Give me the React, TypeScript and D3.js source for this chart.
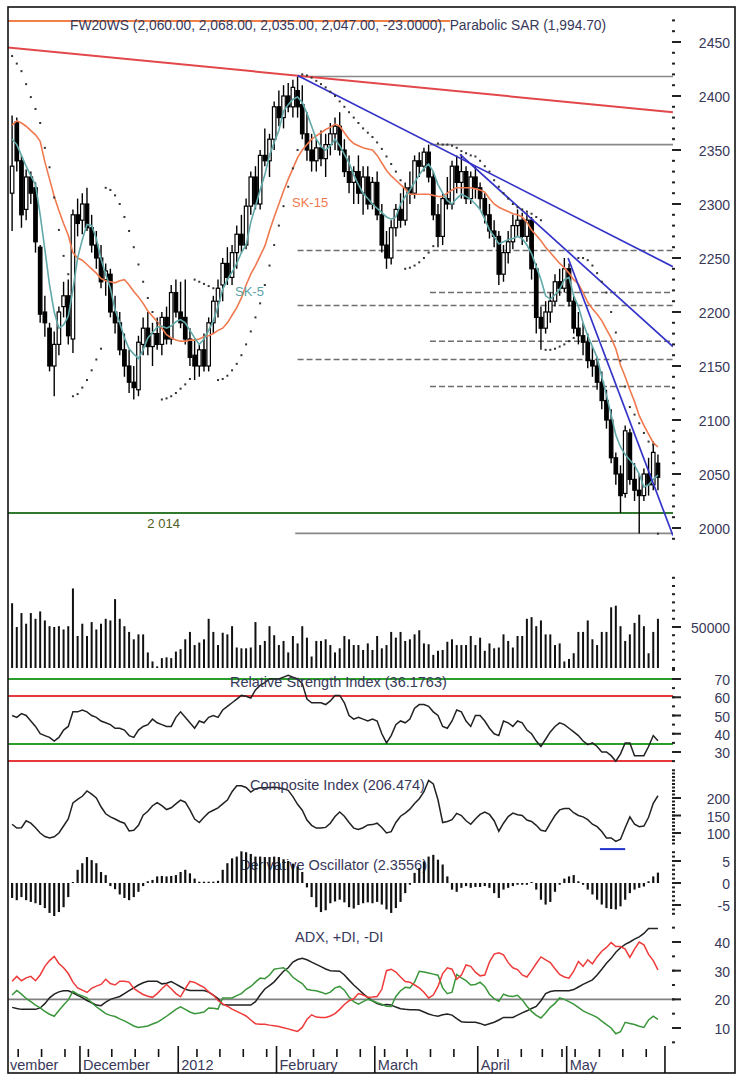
import React from "react";
import * as d3 from "d3";

const FONT = "'Liberation Sans', Arial, sans-serif";
const TXT = "#38385a";

// ---------- daily data (Nov 2011 – May 2012), index 0..138 ----------
const opens = [2310,2376,2340,2295,2325,2315,2260,2200,2185,2150, 2170,2205,2215,2175,2290,2285,2300,2278,2262,2250, 2230,2235,2200,2190,2165,2150,2135,2128,2170,2185, 2168,2180,2170,2195,2175,2218,2200,2195,2175,2160, 2150,2165,2150,2190,2210,2225,2245,2232,2255,2272, 2262,2298,2325,2300,2345,2340,2360,2390,2380,2400, 2390,2405,2392,2365,2350,2340,2352,2342,2355,2365, 2372,2350,2330,2320,2330,2310,2325,2300,2320,2290, 2262,2250,2278,2295,2285,2315,2310,2340,2335,2348, 2325,2290,2270,2305,2300,2335,2320,2330,2305,2325, 2315,2305,2290,2275,2270,2235,2255,2265,2280,2285, 2270,2285,2240,2195,2185,2200,2210,2228,2222,2240, 2210,2185,2178,2172,2155,2150,2135,2118,2100,2065, 2050,2032,2088,2045,2035,2030,2050,2040,2060];
const highs = [2382,2380,2345,2332,2330,2320,2262,2215,2190,2182, 2205,2228,2230,2295,2305,2310,2315,2290,2275,2262, 2245,2240,2215,2200,2180,2165,2150,2178,2195,2200, 2190,2195,2200,2205,2225,2230,2228,2230,2185,2175, 2170,2180,2195,2215,2230,2250,2260,2262,2280,2290, 2305,2330,2335,2350,2370,2365,2395,2405,2410,2412, 2415,2418,2410,2385,2365,2360,2368,2365,2375,2380, 2385,2360,2345,2335,2345,2335,2335,2325,2330,2300, 2275,2285,2300,2310,2320,2330,2345,2348,2352,2355, 2330,2300,2310,2325,2340,2345,2346,2335,2330,2335, 2320,2310,2300,2285,2275,2262,2275,2290,2295,2292, 2292,2288,2245,2205,2210,2218,2235,2240,2250,2245, 2215,2200,2190,2180,2168,2158,2145,2128,2110,2070, 2058,2095,2092,2060,2050,2055,2065,2080,2068];
const lows = [2275,2330,2278,2285,2300,2255,2190,2177,2145,2122, 2160,2195,2170,2162,2270,2272,2275,2255,2240,2222, 2215,2195,2180,2160,2140,2125,2119,2122,2160,2160, 2150,2165,2160,2170,2170,2195,2185,2170,2150,2137, 2140,2145,2145,2180,2195,2210,2225,2225,2240,2255, 2258,2290,2295,2295,2335,2325,2350,2372,2370,2385, 2380,2380,2360,2340,2330,2330,2335,2325,2345,2350, 2345,2325,2310,2300,2300,2290,2295,2295,2285,2255, 2240,2244,2270,2278,2280,2300,2305,2325,2330,2320, 2285,2260,2262,2295,2295,2310,2305,2300,2300,2305, 2295,2282,2268,2260,2225,2228,2245,2258,2270,2262, 2265,2230,2180,2165,2180,2190,2205,2215,2218,2205, 2180,2170,2160,2148,2140,2128,2110,2092,2060,2040, 2014,2028,2040,2025,1995,2025,2030,2035,2035];
const closes = [2335,2340,2290,2325,2310,2265,2198,2190,2150,2170, 2200,2215,2178,2290,2282,2300,2278,2262,2250,2228, 2238,2200,2190,2165,2150,2135,2130,2172,2185,2168, 2180,2170,2195,2175,2218,2200,2190,2175,2158,2150, 2165,2150,2190,2210,2222,2245,2232,2255,2272,2262, 2298,2325,2300,2345,2340,2360,2390,2380,2400,2390, 2408,2390,2365,2350,2340,2352,2342,2355,2365,2372, 2350,2330,2320,2330,2310,2325,2300,2320,2290,2262, 2250,2278,2295,2285,2315,2310,2340,2335,2348,2325, 2290,2270,2305,2300,2335,2320,2330,2305,2325,2315, 2305,2290,2275,2270,2235,2255,2265,2280,2285,2270, 2285,2240,2195,2185,2200,2210,2228,2222,2240,2210, 2185,2178,2172,2155,2150,2135,2118,2100,2065,2050, 2030,2090,2045,2035,2030,2050,2040,2070,2047];
const sk5 = [2360,2355,2345,2335,2326,2318,2290,2258,2225,2200, 2185,2188,2196,2221,2250,2267,2281,2280,2268,2249, 2235,2222,2202,2190,2176,2166,2161,2157,2165,2176, 2181,2186,2187,2185,2187,2191,2193,2190,2183,2176, 2170,2175,2183,2192,2205,2221,2230,2237,2245,2255, 2262,2283,2298,2313,2327,2345,2357,2368,2386,2392, 2397,2399,2394,2384,2372,2360,2353,2350,2354,2360, 2354,2346,2338,2327,2318,2310,2305,2300,2296,2292, 2288,2286,2288,2300,2307,2313,2320,2327,2333,2337, 2330,2318,2310,2303,2300,2305,2309,2307,2304,2300, 2295,2286,2276,2270,2263,2265,2267,2268,2270,2268, 2262,2254,2242,2230,2215,2212,2216,2221,2230,2232, 2215,2205,2190,2178,2168,2158,2140,2123,2105,2086, 2075,2068,2063,2058,2050,2038,2040,2045,2049];
const sk15 = [2373,2377,2375,2372,2368,2364,2358,2339,2323,2307, 2294,2282,2271,2255,2250,2248,2244,2240,2236,2231, 2229,2228,2227,2229,2230,2225,2219,2214,2208,2201, 2196,2191,2185,2179,2176,2174,2173,2173,2174,2174, 2175,2177,2178,2180,2183,2185,2190,2197,2204,2213, 2225,2235,2243,2252,2261,2275,2288,2300,2312,2323, 2333,2343,2350,2355,2360,2363,2366,2369,2371,2374, 2372,2366,2360,2356,2354,2352,2351,2350,2345,2338, 2331,2326,2322,2318,2314,2309,2309,2309,2309,2309, 2308,2307,2307,2310,2313,2315,2315,2315,2315,2314, 2313,2311,2305,2300,2297,2295,2293,2291,2290,2288, 2283,2276,2271,2266,2260,2255,2250,2245,2241,2236, 2230,2226,2218,2209,2203,2198,2192,2184,2176,2166, 2151,2140,2128,2117,2104,2095,2087,2079,2075];
const sar = [2437,2430,2423,2411,2399,2388,2375,2352,2334,2306,2276,2252,2235, 2122,2124,2130,2137,2146,2156,2166, 2315,2313,2308,2300,2288,2275,2260,2244,2228,2213,2200,2190, 2119,2120,2122,2125,2129,2133,2138, 2230,2228,2226,2224,2222, 2137,2138,2141,2146,2152,2160,2170,2182,2195,2208,2225,2243,2262,2280,2298,2316,2333,2350, 2420,2419,2417,2414,2411,2408,2404,2400,2395,2390,2385,2380,2375,2370,2366,2362,2357,2351,2344,2337,2330,2322, 2240,2241,2243,2246,2250,2255,2261, 2356,2355,2355,2354,2352,2349,2347,2345,2344,2340,2335,2330,2322,2316,2310,2305,2300,2297,2295,2293,2291, 2288,2285, 2165,2165,2166,2168,2170,2173,2176, 2250,2250,2248,2243,2236,2228,2218,2200,2181,2155,2131,2112,2105,2097,2088,2080,2077, 1994.7];
const volume = [79000,50000,67000,54000,67000,60000,69000,58000,51000,50000,51000,47000,51000,97000,39000, 54000,39000,56000,47000,54000,60000,58000,84000,60000,51000,44000,35000,41000,41000,19000, 8000,2000,12000,13000,12000,20000,23000,35000,44000,28000,31000,35000,60000,44000,28000, 43000,41000,51000,25000,24000,24000,25000,56000,28000,33000,51000,40000,28000,33000,19000, 39000,30000,51000,37000,14000,33000,33000,35000,28000,19000,24000,39000,35000,28000,28000, 22000,30000,22000,39000,24000,28000,44000,37000,44000,33000,35000,41000,46000,30000,29000, 16000,21000,22000,32000,35000,28000,28000,28000,39000,28000,37000,21000,30000,24000,25000, 41000,33000,25000,39000,39000,60000,62000,51000,58000,41000,41000,28000,30000,8000,11000, 18000,44000,44000,58000,35000,28000,44000,44000,74000,76000,51000,33000,41000,55000,65000, 51000,18000,44000,60000];
const rsi = [50,49,51,50,47,44,40,39,38,36, 38,42,44,52,52,53,52,50,49,47, 46,45,43,43,42,39,38,42,44,45, 48,46,45,44,44,49,52,49,46,43, 47,46,49,50,49,53,55,57,59,61, 60.5,59.5,64,66.5,68,70,70,70,71,72, 71,70,67.5,59,57,57,57,56,58,61, 61,57,50,48,49,48,47,48,47,40, 35,39,45,47,46,48,54,56,56,55, 52,50,44,43,47,53,52,47,44,50, 50,47,43,40,39,47,46,44,47,46, 42,40,36,33,37,41,44,46,45,43, 41,39,36,34,35,33,30,30,28,25, 29,35,35,28,28,28,33,39,36.18];
const compositeIdx = [125,114,115,135,128,115,100,90,86,89, 100,120,140,186,196,205,220,211,200,175, 155,146,140,133,128,106,108,122,151,162, 178,187,178,167,172,183,194,188,166,140, 130,145,158,165,172,183,194,218,235,235, 230,217,226,229,229,230,231,229,226,222, 204,182,165,137,122,114,114,116,128,147, 160,148,130,114,110,115,123,124,128,116, 100,104,130,148,157,168,184,198,218,250, 240,195,130,133,138,156,150,135,125,140, 153,160,153,135,105,128,147,157,152,150, 137,133,122,108,105,128,150,166,170,170, 158,150,146,138,125,118,104,86,86,76, 82,115,146,125,118,120,145,185,206.47];
const derivOsc = [-3.4,-3.9,-3.2,-3.9,-4.3,-4.6,-5.0,-5.7,-6.8,-7.5,-6.6,-5.5,-3.2, 0.2, 3.0,4.5,5.9,5.2,4.5,2.5,1.8, -0.7,-1.4,-2.6,-3.4,-3.9,-3.2,-2.0,-0.7, 0.4,0.7,1.5,1.6,1.5,1.6,1.8,2.5,3.0,2.2,1.0, 0.3,0.3,0.3,0.3,0.5, 3.0,4.5,5.6,6.0,7.2,7.0,6.6,6.0,6.0,5.9,5.9,6.0,5.9,5.4,5.0,4.4,3.8,2.5, -1.0,-3.2,-5.5,-6.6,-6.2,-4.6,-4.2,-3.8,-4.4,-5.5,-5.8,-5.0,-4.6,-4.4, -4.6,-4.3,-4.9,-6.0,-6.8,-5.7,-4.3,-2.3,-0.4, 2.3,3.4,4.9,6.0,6.4,5.3,4.2,1.5, -1.5,-2.0,-1.1,-0.7,-1.1,-0.9,-0.9,-0.7,-1.1,-2.3,-3.4,-1.5,-1.1,-0.7,-0.4,-0.4,-0.4,-0.2,-1.5,-3.8,-4.9,-4.3,-2.0,-0.4, 1.0,1.5,1.8,0.4, -0.4,-1.5,-2.6,-3.8,-4.9,-5.7,-5.9,-6.0,-5.3,-3.8,-2.3,-1.5,-1.1,-0.8, 0.4,1.5,2.36];
const adx = [17.2,16.8,16.5,16.5,16.5,16.5,17,18.5,20.5,21.8, 22.6,23,23,22.3,21.4,20.6,19.6,18.8,18,17.8, 19,20,20.5,21,22,23,24,25,25.8,26.3, 26.3,26.3,25.4,25.6,26.2,25.3,24.4,23.5,23.1,23.1, 23.1,23.1,22.5,21.5,20.3,18.2,18,18,18,18, 18,18,19.2,21.5,23.6,24.8,26.1,28,29.8,31, 33,33.9,34.3,33.8,33,32.2,31.4,30.6,30,29.9, 29.8,28.5,26.7,25,23.5,22,20.6,19.5,18.5,18, 18.2,18,17.3,16.7,16.5,16.4,16.4,16.3,15.6,14.9, 14.4,14.1,14.6,14.9,14.5,13.3,12.2,12,12,12, 11.6,11,11.5,12,12.8,13.7,13.7,13.7,14.5,15.3, 16,16.8,17.5,19.5,22,22.7,23,23,23,23, 23.4,24.3,25.2,26,26.8,28.5,30.5,32.6,34.3,36.4, 38,39.2,40,41,41.8,43,44.7,44.7,44.7];
const minusDI = [26.3,28,26.5,27.5,28,26.5,28.5,31.5,33.5,35, 32.5,31,29,26,24,23.2,22.4,23.8,24.6,25.2, 27,25.5,25,26.3,26.3,26,23.8,22.7,21.7,21.1, 20.7,22,23.7,25.2,23.7,22,20.9,23.7,26.3,25.9, 25,24.2,22.6,21.5,19.6,18.4,17.6,16.6,15.8,15, 14.2,12.8,11.5,11.3,11.3,11,10.8,10.5,10.1,9.7, 9.2,8.8,10.2,13,14.6,13.8,13.7,13.7,14.2,15, 16.5,18.2,19.5,20.2,22,21.5,20.7,20.8,21,23.5, 30,30.5,29.5,27.8,26.2,26,25,24,22.5,20.5, 21.5,24.5,29,31,30.5,27,28.5,32,31.5,29.5, 28.2,28.5,33,35.8,36.2,35.5,32.8,31,30.4,28.5, 27.8,30,32.5,34.8,33.8,32.8,30.7,28.7,27.8,27.4, 29.8,33.2,31.5,33.8,32.4,34.8,36.8,38.1,39.8,38.4, 38.4,37.5,34.6,37.5,40,39,35.7,33.5,30.3];
const plusDI = [21.5,23.1,21.8,20.3,19.2,18,17,15.8,14.8,14.1, 16.1,18,19.8,22.8,21.8,21.2,20.5,18.8,17.4,16.2, 15,14.4,14,13.2,12.5,11.6,10.7,10.2,10.4,10.7, 11.4,12,13,14.1,15.3,16.5,17.4,16.5,15.6,15, 15.2,15.6,17,16.9,16.6,20.5,20.5,20.5,21.3,22, 23.5,24.5,26,27.4,27.2,28.5,30.5,30.8,31,29.6, 27.7,26.5,25.5,23.5,23.2,23,22.5,21.9,22.5,24, 24.5,23.2,20.8,19.2,18.3,19.2,20,19.5,18.8,18.3, 17.6,17.5,21,23,24.2,24,26,29.8,29.5,29.2, 28.8,28.4,24,22,22.5,28.7,27.5,26.5,25,25.2, 26,24.5,21.8,20.2,19.3,21.8,21.2,21,21.4,19.8, 17.6,15.8,14.4,13.5,15.2,17.2,18.6,20.5,20,19.2, 18.3,17.2,16,15.2,14.5,13.7,12.4,11.2,10,8, 8.7,12,11.6,11.2,10.6,10.2,12.8,14.1,13];

// ---------- annotations ----------
const redTrend: [number, number][] = [[-0.9, 2445], [141.2, 2385]];
const blueTrends: [number, number][][] = [
  [[61, 2419], [141.2, 2242]],
  [[95.7, 2346], [141.2, 2168]],
  [[118.8, 2250], [141.2, 1993]],
];
const solidLevels = [{ from: 61, value: 2418 }, { from: 89.3, value: 2355 }, { from: 60.5, value: 1995 }];
const dashedLevels = [
  { from: 61, value: 2257 }, { from: 61, value: 2206 }, { from: 61, value: 2156 },
  { from: 89.3, value: 2218 }, { from: 89.3, value: 2173 }, { from: 89.3, value: 2131 },
];
const supportLevel = 2014;
const rsiGreenLevels = [70, 34.4];
const rsiRedLevels = [60.7, 25.1];
const adxRefLevel = 20;
const ciMarker = { from: 125.6, to: 131, value: 54 };

// ---------- axis ----------
const monthNames = ["vember", "December", "2012", "February", "March", "April", "May"];
const monthStarts = [0, 15, 36, 57, 78, 100, 119];
const periodEnd = 140;
const weekTicks = [1.3, 6.3, 11.3, 16.3, 21.3, 26.3, 31.3, 39.5, 44.4, 49.4, 54.4, 59.4, 64.4, 69.4, 74.4, 79.6, 84.4, 89.4, 94.4, 103.8, 108.8, 113.3, 117.5, 120.3, 125.5, 130.5, 135.5];
const priceTicks = [2000, 2050, 2100, 2150, 2200, 2250, 2300, 2350, 2400, 2450];
const volTicks = [50000];
const rsiTicks = [30, 40, 50, 60, 70];
const ciTicks = [100, 150, 200];
const doTicks = [-5, 0, 5];
const adxTicks = [10, 20, 30, 40];

const PL = 8, PR = 673, AX = 672;

export default function App() {
  const x = d3.scaleLinear().domain([0, 138]).range([12.1, 657.94]);
  const yP = d3.scaleLinear().domain([2000, 2450]).range([528, 42]);
  const yV = d3.scaleLinear().domain([0, 50000]).range([668, 627]);
  const yR = d3.scaleLinear().domain([30, 70]).range([752, 679]);
  const yC = d3.scaleLinear().domain([100, 200]).range([833, 798]);
  const yD = d3.scaleLinear().domain([-5, 5]).range([905, 861]);
  const yA = d3.scaleLinear().domain([10, 40]).range([1028, 942]);

  const series = (s: d3.ScaleLinear<number, number>) =>
    d3.line<number>().x((_, i) => x(i)).y((d) => s(d));
  const seg = d3.line<[number, number]>().x((d) => x(d[0])).y((d) => yP(d[1]));

  const axis = (s: d3.ScaleLinear<number, number>, minor: number[], major: number[], key: string) => (
    <g key={key}>
      {minor.map((v) => (
        <rect key={"m" + v} x={AX} y={s(v) - 1} width={3} height={2} fill="#222" />
      ))}
      {major.map((v) => (
        <g key={"M" + v}>
          <rect x={AX} y={s(v) - 1} width={9} height={2} fill="#222" />
          <text x={730} y={s(v) + 6} textAnchor="end" fontSize={14} fill={TXT} fontFamily={FONT}>
            {String(v)}
          </text>
        </g>
      ))}
    </g>
  );

  const bw = 3.5;

  return (
    <svg width={739} height={1081} style={{ position: "absolute", left: 0, top: 0, background: "#fff" }}>
      <defs>
        <clipPath id="plot"><rect x={PL} y={8} width={PR - PL} height={1040} /></clipPath>
      </defs>
      <rect x={0} y={0} width={739} height={1081} fill="#fff" />

      {/* legend line behind title */}
      <line x1={PL} x2={450} y1={21} y2={21} stroke="#f08048" strokeWidth={2} />
      <text x={70} y={30} fontSize={13.8} fill={TXT} fontFamily={FONT}>
        FW20WS (2,060.00, 2,068.00, 2,035.00, 2,047.00, -23.0000), Parabolic SAR (1,994.70)
      </text>

      <g clipPath="url(#plot)">
        {/* horizontal levels */}
        {solidLevels.map((l, k) => (
          <line key={"s" + k} x1={x(l.from)} x2={PR} y1={yP(l.value)} y2={yP(l.value)} stroke="#888" strokeWidth={1.6} />
        ))}
        {dashedLevels.map((l, k) => (
          <line key={"d" + k} x1={x(l.from)} x2={PR} y1={yP(l.value)} y2={yP(l.value)} stroke="#6e6e6e" strokeWidth={1.5} strokeDasharray="6,3" />
        ))}
        <line x1={PL} x2={PR} y1={yP(supportLevel)} y2={yP(supportLevel)} stroke="#2f7a2f" strokeWidth={2} />

        {/* candles */}
        {closes.map((c, i) => {
          const o = opens[i];
          const top = yP(Math.max(o, c));
          const bot = yP(Math.min(o, c));
          const up = c >= o;
          return (
            <g key={"c" + i}>
              <line x1={x(i)} x2={x(i)} y1={yP(highs[i])} y2={yP(lows[i])} stroke="#000" strokeWidth={1.4} />
              <rect x={x(i) - bw / 2} y={top} width={bw} height={Math.max(1, bot - top)} fill={up ? "#fff" : "#000"} stroke="#000" strokeWidth={1.2} />
            </g>
          );
        })}

        {/* moving averages */}
        <path d={series(yP)(sk15) || ""} fill="none" stroke="#f07a50" strokeWidth={1.6} />
        <path d={series(yP)(sk5) || ""} fill="none" stroke="#62a9a9" strokeWidth={1.6} />

        {/* trend lines */}
        <path d={seg(redTrend) || ""} stroke="#e2474a" strokeWidth={2} fill="none" />
        {blueTrends.map((t, k) => (
          <path key={"b" + k} d={seg(t) || ""} stroke="#3434c8" strokeWidth={1.7} fill="none" />
        ))}

        {/* parabolic SAR */}
        {sar.map((v, i) => (
          <rect key={"p" + i} x={x(i) - 1} y={yP(v) - 1} width={2} height={2} fill="#333" />
        ))}

        {/* volume */}
        {volume.map((v, i) => (
          <line key={"v" + i} x1={x(i)} x2={x(i)} y1={yV(0)} y2={yV(v)} stroke="#111" strokeWidth={2} />
        ))}

        {/* RSI */}
        {rsiGreenLevels.map((v) => (
          <line key={"rg" + v} x1={PL} x2={PR} y1={yR(v)} y2={yR(v)} stroke="#2a9d2a" strokeWidth={2} />
        ))}
        {rsiRedLevels.map((v) => (
          <line key={"rr" + v} x1={PL} x2={PR} y1={yR(v)} y2={yR(v)} stroke="#e8383d" strokeWidth={2} />
        ))}
        <path d={series(yR)(rsi) || ""} fill="none" stroke="#222" strokeWidth={1.5} />

        {/* Composite index */}
        <path d={series(yC)(compositeIdx) || ""} fill="none" stroke="#222" strokeWidth={1.5} />
        <line x1={x(ciMarker.from)} x2={x(ciMarker.to)} y1={yC(ciMarker.value)} y2={yC(ciMarker.value)} stroke="#2233cc" strokeWidth={2} />

        {/* derivative oscillator */}
        <text x={240} y={870} fontSize={14.5} fill={TXT} fontFamily={FONT}>Derivative Oscillator (2.3556)</text>
        {derivOsc.map((v, i) => (
          <line key={"o" + i} x1={x(i)} x2={x(i)} y1={yD(0)} y2={Math.abs(yD(v) - yD(0)) < 1 ? yD(0) - 1 : yD(v)} stroke="#111" strokeWidth={2.2} />
        ))}

        {/* ADX */}
        <line x1={PL} x2={680} y1={yA(adxRefLevel)} y2={yA(adxRefLevel)} stroke="#808080" strokeWidth={1.8} />
        <path d={series(yA)(adx) || ""} fill="none" stroke="#222" strokeWidth={1.5} />
        <path d={series(yA)(plusDI) || ""} fill="none" stroke="#3a963a" strokeWidth={1.5} />
        <path d={series(yA)(minusDI) || ""} fill="none" stroke="#ee3a3a" strokeWidth={1.5} />
      </g>

      {/* in-chart labels */}
      <text x={292} y={207} fontSize={13} fill="#f07a50" fontFamily={FONT}>SK-15</text>
      <text x={235} y={296} fontSize={13} fill="#5ba3a6" fontFamily={FONT}>SK-5</text>
      <text x={x(28.9)} y={yP(supportLevel) + 15} fontSize={13} fill="#4f5d22" fontFamily={FONT}>2 014</text>
      <text x={230} y={687} fontSize={14.5} fill={TXT} fontFamily={FONT}>Relative Strength Index (36.1763)</text>
      <text x={250} y={790} fontSize={14.5} fill={TXT} fontFamily={FONT}>Composite Index (206.474)</text>
      <text x={295} y={942} fontSize={14.5} fill={TXT} fontFamily={FONT}>ADX, +DI, -DI</text>

      {/* right axes */}
      {axis(yP, d3.range(1990, 2471, 10), priceTicks, "ap")}
      {axis(yV, d3.range(0, 110001, 10000), volTicks, "av")}
      {axis(yR, d3.range(20, 76, 5), rsiTicks, "ar")}
      {axis(yC, d3.range(70, 271, 10), ciTicks, "ac")}
      {axis(yD, d3.range(-7, 8, 1), doTicks, "ad")}
      {axis(yA, d3.range(5, 50, 5), adxTicks, "aa")}

      {/* date axis */}
      {weekTicks.map((t) => (
        <line key={"w" + t} x1={x(t)} x2={x(t)} y1={1049} y2={1057} stroke="#111" strokeWidth={1.6} />
      ))}
      {monthStarts.slice(1).concat([periodEnd]).map((m) => (
        <line key={"ms" + m} x1={x(m - 0.5)} x2={x(m - 0.5)} y1={1046} y2={1073} stroke="#111" strokeWidth={1.6} />
      ))}
      {monthNames.map((n, k) => (
        <text key={n} x={k === 0 ? PL + 2 : x(monthStarts[k] - 0.5) + 3} y={1070} fontSize={14.5} fill={TXT} fontFamily={FONT}>{n}</text>
      ))}

      {/* frame */}
      <rect x={PL} y={7} width={735 - PL} height={1073 - 7} fill="none" stroke="#111" strokeWidth={1.6} />
    </svg>
  );
}
